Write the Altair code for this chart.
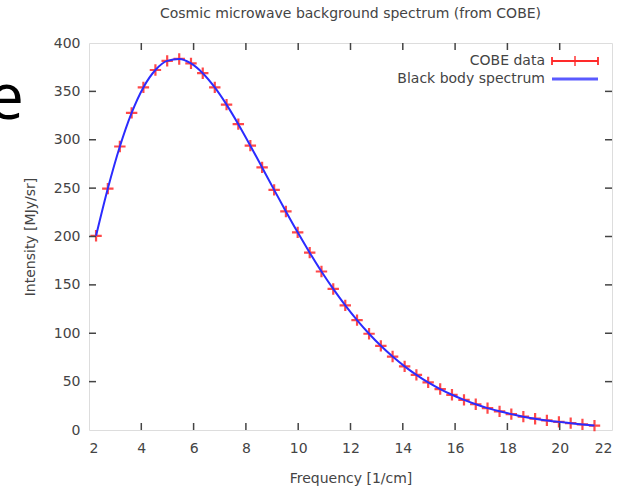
import altair as alt
import pandas as pd

# COBE FIRAS data
freq = [2.27, 2.72, 3.18, 3.63, 4.08, 4.54, 4.99, 5.45, 5.90, 6.35, 6.81, 7.26, 7.71,
        8.17, 8.62, 9.08, 9.53, 9.98, 10.44, 10.89, 11.34, 11.80, 12.25, 12.71, 13.16,
        13.61, 14.07, 14.52, 14.97, 15.43, 15.88, 16.34, 16.79, 17.24, 17.70, 18.15,
        18.61, 19.06, 19.51, 19.97, 20.42, 20.87, 21.33]
intensity = [200.7, 249.5, 293.0, 327.8, 354.1, 372.1, 381.5, 383.5, 378.9, 368.8,
             354.1, 336.3, 316.1, 293.9, 271.4, 248.2, 225.9, 204.3, 183.3, 163.8,
             145.8, 128.8, 113.6, 99.5, 87.0, 75.9, 65.8, 57.0, 49.2, 42.3, 36.4,
             31.1, 26.6, 22.6, 19.3, 16.4, 13.8, 11.7, 9.9, 8.4, 7.1, 5.8, 4.5]
x_ticks = [2, 4, 6, 8, 10, 12, 14, 16, 18, 20, 22]
y_ticks = [0, 50, 100, 150, 200, 250, 300, 350, 400]
x_inner = [4, 6, 8, 10, 12, 14, 16, 18, 20]
y_inner = [50, 100, 150, 200, 250, 300, 350]
legend_labels = ["COBE data", "Black body spectrum"]

W, H = 523, 387
FONT = "DejaVu Sans"
FS = 14
TXT = "#444444"

df = pd.DataFrame({"f": freq, "I": intensity})
xs = alt.Scale(domain=[2, 22], nice=False, zero=False)
ys = alt.Scale(domain=[0, 400], nice=False)

xaxis = alt.Axis(values=x_ticks, ticks=False, domain=False, grid=False, labelPadding=11,
                 labelFontSize=FS, labelColor=TXT, labelFont=FONT,
                 titleFontSize=FS, titleFont=FONT, titleColor=TXT, titleFontWeight="normal",
                 titlePadding=16)
yaxis = alt.Axis(values=y_ticks, ticks=False, domain=False, grid=False, labelPadding=9,
                 labelFontSize=FS, labelColor=TXT, labelFont=FONT,
                 titleFontSize=FS, titleFont=FONT, titleColor=TXT, titleFontWeight="normal",
                 titlePadding=16)
XT = "Frequency [1/cm]"
YT = "Intensity [MJy/sr]"

def X():
    return alt.X("f:Q", scale=xs, axis=xaxis, title=XT)

def Y():
    return alt.Y("I:Q", scale=ys, axis=yaxis, title=YT)

CROSS = "M-1,0L1,0M0,-1L0,1"
points = alt.Chart(df).mark_point(shape=CROSS, size=130, filled=False,
                                  color="#ff2a2a", strokeWidth=2.2, opacity=0.85).encode(x=X(), y=Y())
line = alt.Chart(df).mark_line(color="#2b2bff", strokeWidth=2, interpolate="monotone").encode(
    x=X(), y=Y())

xt = pd.DataFrame({"f": x_inner})
yt = pd.DataFrame({"I": y_inner})
tick_style = dict(color="#444444", strokeWidth=1.5)
xt_bot = alt.Chart(xt).mark_rule(**tick_style).encode(x=X(), y=alt.value(H), y2=alt.value(H - 7))
xt_top = alt.Chart(xt).mark_rule(**tick_style).encode(x=X(), y=alt.value(0), y2=alt.value(7))
yt_l = alt.Chart(yt).mark_rule(**tick_style).encode(y=Y(), x=alt.value(0), x2=alt.value(7))
yt_r = alt.Chart(yt).mark_rule(**tick_style).encode(y=Y(), x=alt.value(W), x2=alt.value(W - 7))

one = pd.DataFrame({"a": [0]})
# legend (gnuplot style: label then sample)
leg_t1 = alt.Chart(one).mark_text(align="right", baseline="middle", fontSize=FS,
                                  font=FONT, color=TXT, text=legend_labels[0]).encode(
    x=alt.value(456), y=alt.value(18))
leg_t2 = alt.Chart(one).mark_text(align="right", baseline="middle", fontSize=FS,
                                  font=FONT, color=TXT, text=legend_labels[1]).encode(
    x=alt.value(456), y=alt.value(36))
red = dict(color="#ff2a2a", strokeWidth=1.8)
leg_red = alt.Chart(one).mark_rule(**red).encode(x=alt.value(463), x2=alt.value(509), y=alt.value(18))
leg_cap1 = alt.Chart(one).mark_rule(**red).encode(x=alt.value(463), y=alt.value(14), y2=alt.value(22))
leg_cap2 = alt.Chart(one).mark_rule(**red).encode(x=alt.value(509), y=alt.value(14), y2=alt.value(22))
leg_pt = alt.Chart(one).mark_point(
    shape=CROSS, size=100, filled=False, color="#ff2a2a", strokeWidth=2).encode(
    x=alt.value(486), y=alt.value(18))
leg_blue = alt.Chart(one).mark_rule(color="#5a5aff", strokeWidth=3).encode(
    x=alt.value(463), x2=alt.value(509), y=alt.value(36))

# slide fragment at the left edge
frag = alt.Chart(one).mark_text(
    align="right", baseline="alphabetic", fontSize=64, font="Open Sans", color="black",
    text="e").encode(x=alt.value(-65), y=alt.value(76))

chart = alt.layer(
    points, line, frag, xt_bot, xt_top, yt_l, yt_r,
    leg_t1, leg_t2, leg_red, leg_cap1, leg_cap2, leg_pt, leg_blue
).properties(
    width=W, height=H,
    title=alt.Title("Cosmic microwave background spectrum (from COBE)", fontSize=FS,
                    font=FONT, color=TXT, fontWeight="normal", anchor="middle", offset=15),
    autosize=alt.AutoSizeParams(type="none"),
    padding={"left": 89, "top": 43, "right": 20, "bottom": 57},
).configure_view(stroke="#333333", strokeWidth=1.5).configure(background="white")

chart.save("out.html", embed_options={"renderer": "svg", "actions": False})
